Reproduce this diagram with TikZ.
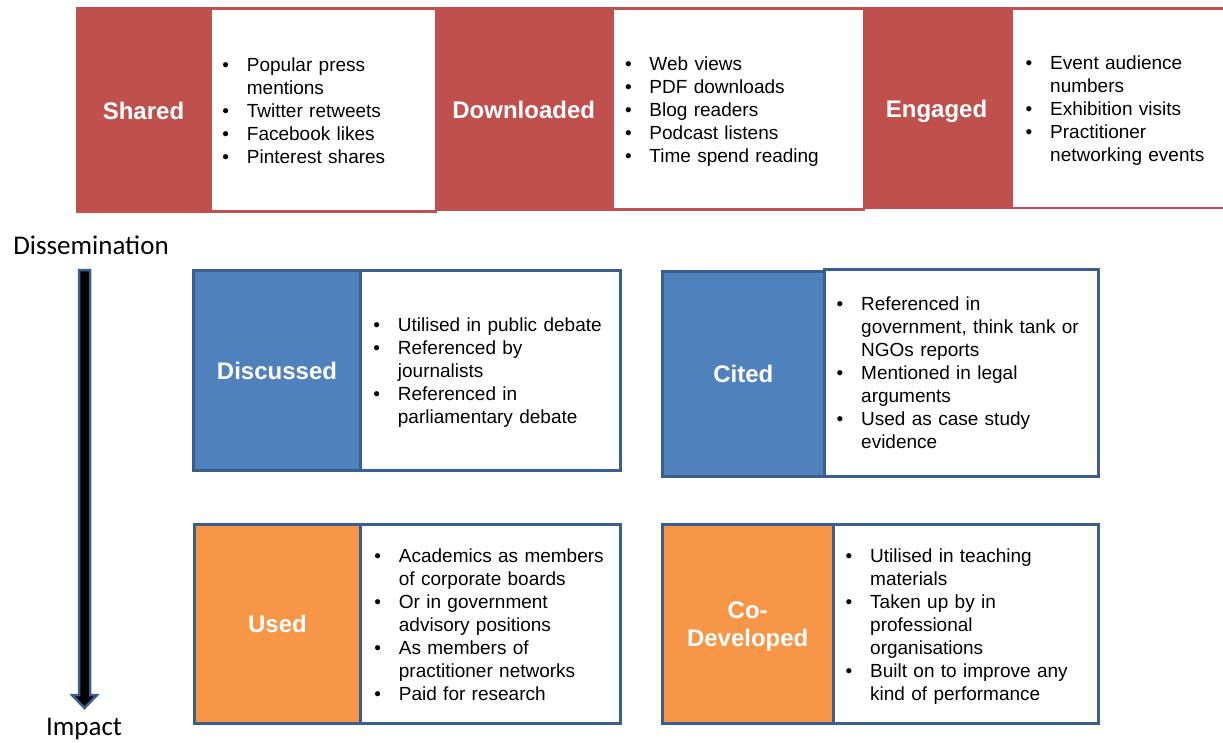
\documentclass[tikz,border=0pt]{standalone}
\usepackage{fontspec}
\setmainfont{Liberation Sans}
\newfontfamily\calibfont{Carlito}
\definecolor{myred}{HTML}{C0504D}
\definecolor{myblue}{HTML}{4F81BD}
\definecolor{myorange}{HTML}{F79646}
\definecolor{myborder}{HTML}{3A5F8F}
\newcommand\bitem[1]{\hangindent=24.5pt\hangafter=1\makebox[24.5pt][l]{\textbullet}#1\par}
\begin{document}
\begin{tikzpicture}[x=1pt,y=-1pt,
  band/.style={fill=myred, draw=none, anchor=north west, inner sep=0pt, outer sep=0pt},
  whitebox/.style={fill=white, draw=none, anchor=north west, inner sep=0pt, outer sep=0pt},
  toptitle/.style={text=white, font=\bfseries\fontsize{24}{28.5}\selectfont, inner sep=0pt, text height=17.5pt, text depth=0pt},
  colbox/.style={draw=myborder, line width=3pt, anchor=north west, inner sep=0pt, outer sep=0pt,
     text=white, font=\bfseries\fontsize{24}{28.5}\selectfont, text height=17.5pt, text depth=0pt},
  listbox/.style={draw=myborder, line width=3pt, fill=white, anchor=north west, inner sep=0pt, outer sep=0pt},
  lst/.style={anchor=base west, inner sep=0pt, outer sep=0pt, text width=330pt, align=left,
     font=\fontsize{19}{23}\selectfont, text=black},
  axislabel/.style={anchor=base, inner sep=0pt, font=\calibfont\fontsize{27}{32}\selectfont, text=black}
]
\useasboundingbox (0,0) rectangle (1223,742);
\clip (0,0) rectangle (1223,742);

% ---------- top row ----------
\node (b1) [band, minimum width=361pt, minimum height=206pt] at (76,7) {};
\node (b2) [band, minimum width=429pt, minimum height=204pt] at (436,7) {};
\node (b3) [band, minimum width=380pt, minimum height=202pt] at (864,7) {};
\node (w1) [whitebox, minimum width=223pt, minimum height=200pt] at (212,10) {};
\node (w2) [whitebox, minimum width=249pt, minimum height=198pt] at (614,10) {};
\node (w3) [whitebox, minimum width=230pt, minimum height=197pt] at (1013,10) {};

\node (shared) [toptitle] at (143.5,110.3) {Shared};
\node (downloaded) [toptitle] at (523.7,109.5) {Downloaded};
\node (engaged) [toptitle] at (936.5,108.7) {Engaged};

\node (l1) [lst] at (222.4,71) {\bitem{Popular press\newline mentions}\bitem{Twitter retweets}\bitem{Facebook likes}\bitem{Pinterest shares}};
\node (l2) [lst] at (625,70.3) {\bitem{Web views}\bitem{PDF downloads}\bitem{Blog readers}\bitem{Podcast listens}\bitem{Time spend reading}};
\node (l3) [lst] at (1025.7,69) {\bitem{Event audience\newline numbers}\bitem{Exhibition visits}\bitem{Practitioner\newline networking events}};

% ---------- axis ----------
\node (diss) [axislabel] at (91,254) {Dissemination};
\node (impact) [axislabel] at (84,735.5) {Impact};
\draw[draw=myborder, line width=2.5pt, fill=black, line join=miter]
  (79,270) -- (90,270) -- (90,695) -- (97,695) -- (84.5,708) -- (72,695) -- (79,695) -- cycle;

% ---------- Discussed ----------
\node (disc) [colbox, fill=myblue, minimum width=167pt, minimum height=200pt] at (193.5,270.5) {Discussed};
\node (discl) [listbox, minimum width=260pt, minimum height=200pt] at (360.5,270.5) {};
\node (l4) [lst] at (373.4,331) {\bitem{Utilised in public debate}\bitem{Referenced by\newline journalists}\bitem{Referenced in\newline parliamentary debate}};

% ---------- Cited ----------
\node (cited) [colbox, fill=myblue, minimum width=161.5pt, minimum height=205pt] at (662.5,271.5) {Cited};
\node (citedl) [listbox, minimum width=274.5pt, minimum height=207pt] at (824,269.5) {};
\node (l5) [lst] at (836.7,310) {\bitem{Referenced in\newline government, think tank or\newline NGOs reports}\bitem{Mentioned in legal\newline arguments}\bitem{Used as case study\newline evidence}};

% ---------- Used ----------
\node (used) [colbox, fill=myorange, minimum width=166pt, minimum height=199pt] at (194.5,524.5) {Used};
\node (usedl) [listbox, minimum width=260pt, minimum height=199pt] at (360.5,524.5) {};
\node (l6) [lst] at (374.4,562.3) {\bitem{Academics as members\newline of corporate boards}\bitem{Or in government\newline advisory positions}\bitem{As members of\newline practitioner networks}\bitem{Paid for research}};

% ---------- Co-Developed ----------
\node (codev) [colbox, fill=myorange, minimum width=170.5pt, minimum height=199pt] at (662.5,524.5) {};
\node (codevt) [text=white, font=\bfseries\fontsize{24}{28.5}\selectfont, inner sep=0pt, align=center] at (747.7,626.5) {Co-\\Developed};
\node (codevl) [listbox, minimum width=265.5pt, minimum height=199pt] at (833,524.5) {};
\node (l7) [lst] at (845.7,562.3) {\bitem{Utilised in teaching\newline materials}\bitem{Taken up by in\newline professional\newline organisations}\bitem{Built on to improve any\newline kind of performance}};
\end{tikzpicture}
\end{document}
